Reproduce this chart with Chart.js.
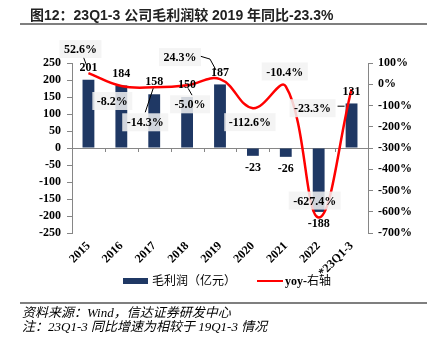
<!DOCTYPE html>
<html>
<head>
<meta charset="utf-8">
<script src="https://cdn.jsdelivr.net/npm/chart.js@4.4.0/dist/chart.umd.min.js"></script>
<style>
    body { margin: 0; background: #fff; }
    #page { position: relative; width: 432px; height: 339px; overflow: hidden; }
    #canvas1 { position: absolute; left: 0; top: 0; }
    .title { position: absolute; left: 30px; top: 6px; font: bold 14px "Liberation Sans", "Noto Sans CJK SC"; color: #222; white-space: nowrap; line-height: 18px; }
    .rule { position: absolute; left: 20px; width: 407px; background: #7f7f7f; }
    .legend { position: absolute; top: 273px; font: 12px "Liberation Serif", "Noto Sans CJK SC"; color: #000; line-height: 16px; white-space: nowrap; }
    .swatch { position: absolute; }
    .note { position: absolute; left: 22px; font: italic 13px "Liberation Serif", "Noto Sans CJK SC"; color: #000; white-space: nowrap; line-height: 14px; }
</style>
</head>
<body>
<div id="page">
    <canvas id="canvas1" width="432" height="339"></canvas>
    <div class="title">图12：23Q1-3 公司毛利润较 2019 年同比-23.3%</div>
    <div class="rule" style="top:23px;height:2px;"></div>

    <div class="swatch" style="left:123px;top:278px;width:25px;height:6px;background:#1f3864;"></div>
    <div class="legend" style="left:152px;">毛利润（亿元）</div>
    <div class="swatch" style="left:257px;top:280px;width:26px;height:2px;background:#ff0000;"></div>
    <div class="legend" style="left:285px;"><b>yoy-</b>右轴</div>

    <div class="rule" style="top:302px;height:1.5px;"></div>
    <div class="note" style="top:306px;">资料来源：Wind，信达证券研发中心</div>
    <div class="note" style="top:320px;">注：23Q1-3 同比增速为相较于 19Q1-3 情况</div>
</div>
<script>
var periods = ['2015', '2016', '2017', '2018', '2019', '2020', '2021', '2022', '*23Q1-3'];
var grossProfit = [201, 184, 158, 150, 187, -23, -26, -188, 131];   // 亿元
var yoyGrowth = [52.6, -8.2, -14.3, -5.0, 24.3, -112.6, -10.4, -627.4, -23.3];   // %

// where each yoy box sits relative to its point, plus the little leader lines
var yoyBoxOffset = [[-8, -24], [-9, 15], [-9, 35], [3, 19], [-40, -22], [-3, 14], [-1, -15], [-4, -17], [-39, 19]];
var yoyLeader = {
    0: [[-5, -16], [-2, -8]],
    2: [[-9, 25], [-1, 1]],
    3: [[1, 3], [5, 10]],
    4: [[-20, -23], [-10, -20], [-4, -9]],
    8: [[-14, 17], [-7, 17]]
};

var axisGrey = '#868686';
var labelFont = { family: 'Liberation Serif', size: 12, weight: 'bold' };

var valueLabels = {
    id: 'valueLabels',
    beforeDatasetsDraw: function (chart) {
        // small category ticks hanging off the zero line
        var ctx = chart.ctx, area = chart.chartArea;
        var y0 = chart.scales.yL.getPixelForValue(0);
        var step = (area.right - area.left) / periods.length;
        ctx.save();
        ctx.strokeStyle = axisGrey;
        ctx.lineWidth = 1;
        for (var i = 1; i < periods.length; i++) {
            var x = Math.round(area.left + i * step) + 0.5;
            ctx.beginPath();
            ctx.moveTo(x, y0);
            ctx.lineTo(x, y0 + 4);
            ctx.stroke();
        }
        ctx.restore();
    },
    afterDatasetsDraw: function (chart) {
        var ctx = chart.ctx;
        var bars = chart.getDatasetMeta(1).data;
        var xs = chart.scales.x, yR = chart.scales.yR;
        ctx.save();
        ctx.font = 'bold 12px "Liberation Serif"';
        ctx.textAlign = 'center';
        ctx.textBaseline = 'middle';
        ctx.fillStyle = '#000';
        grossProfit.forEach(function (v, i) {
            var b = bars[i];
            ctx.fillText(String(v), b.x, v >= 0 ? b.y - 12 : b.y + 12);
        });

        ctx.strokeStyle = '#000';
        ctx.lineWidth = 1;
        yoyGrowth.forEach(function (v, i) {
            var px = xs.getPixelForValue(i), py = yR.getPixelForValue(v);
            var lead = yoyLeader[i];
            if (lead) {
                ctx.beginPath();
                lead.forEach(function (p, k) {
                    if (k === 0) ctx.moveTo(px + p[0], py + p[1]);
                    else ctx.lineTo(px + p[0], py + p[1]);
                });
                ctx.stroke();
            }
        });

        yoyGrowth.forEach(function (v, i) {
            var px = xs.getPixelForValue(i), py = yR.getPixelForValue(v);
            var cx = px + yoyBoxOffset[i][0], cy = py + yoyBoxOffset[i][1];
            var txt = v.toFixed(1) + '%';
            var w = ctx.measureText(txt).width + 9;
            ctx.fillStyle = 'rgba(242,242,242,0.85)';
            ctx.fillRect(cx - w / 2, cy - 9, w, 18);
            ctx.fillStyle = '#000';
            ctx.fillText(txt, cx, cy + 1);
        });
        ctx.restore();
    }
};

new Chart(document.getElementById('canvas1'), {
    type: 'bar',
    data: {
        labels: periods,
        datasets: [{
            type: 'line',
            label: 'yoy-右轴',
            data: yoyGrowth,
            yAxisID: 'yR',
            borderColor: '#ff0000',
            borderWidth: 2.5,
            pointRadius: 0,
            tension: 0.4,
            order: 0
        }, {
            label: '毛利润（亿元）',
            data: grossProfit,
            yAxisID: 'yL',
            backgroundColor: '#1f3864',
            barPercentage: 0.36,
            categoryPercentage: 1,
            order: 1
        }]
    },
    options: {
        responsive: false,
        devicePixelRatio: 1,
        animation: false,
        layout: { padding: { top: 63, left: 0, right: 0, bottom: 0 } },
        plugins: {
            legend: { display: false },
            tooltip: { enabled: false }
        },
        scales: {
            x: {
                grid: { display: false, drawTicks: false },
                border: { display: false },
                ticks: { minRotation: 45, maxRotation: 45, autoSkip: false, color: '#000', font: labelFont, padding: 6 },
                afterFit: function (s) { s.height = 106; }
            },
            yL: {
                position: 'left',
                min: -250,
                max: 250,
                ticks: { stepSize: 50, autoSkip: false, color: '#000', font: labelFont, padding: 6 },
                grid: {
                    color: function (c) { return c.tick && c.tick.value === 0 ? axisGrey : 'rgba(0,0,0,0)'; },
                    tickColor: axisGrey,
                    tickLength: 5
                },
                border: { color: axisGrey },
                afterFit: function (s) { s.width = 72; }
            },
            yR: {
                position: 'right',
                min: -700,
                max: 100,
                ticks: { stepSize: 100, autoSkip: false, color: '#000', font: labelFont, padding: 5, callback: function (v) { return v + '%'; } },
                grid: { drawOnChartArea: false, tickColor: axisGrey, tickLength: 5 },
                border: { color: axisGrey },
                afterFit: function (s) { s.width = 64; }
            }
        }
    },
    plugins: [valueLabels]
});
</script>
</body>
</html>
